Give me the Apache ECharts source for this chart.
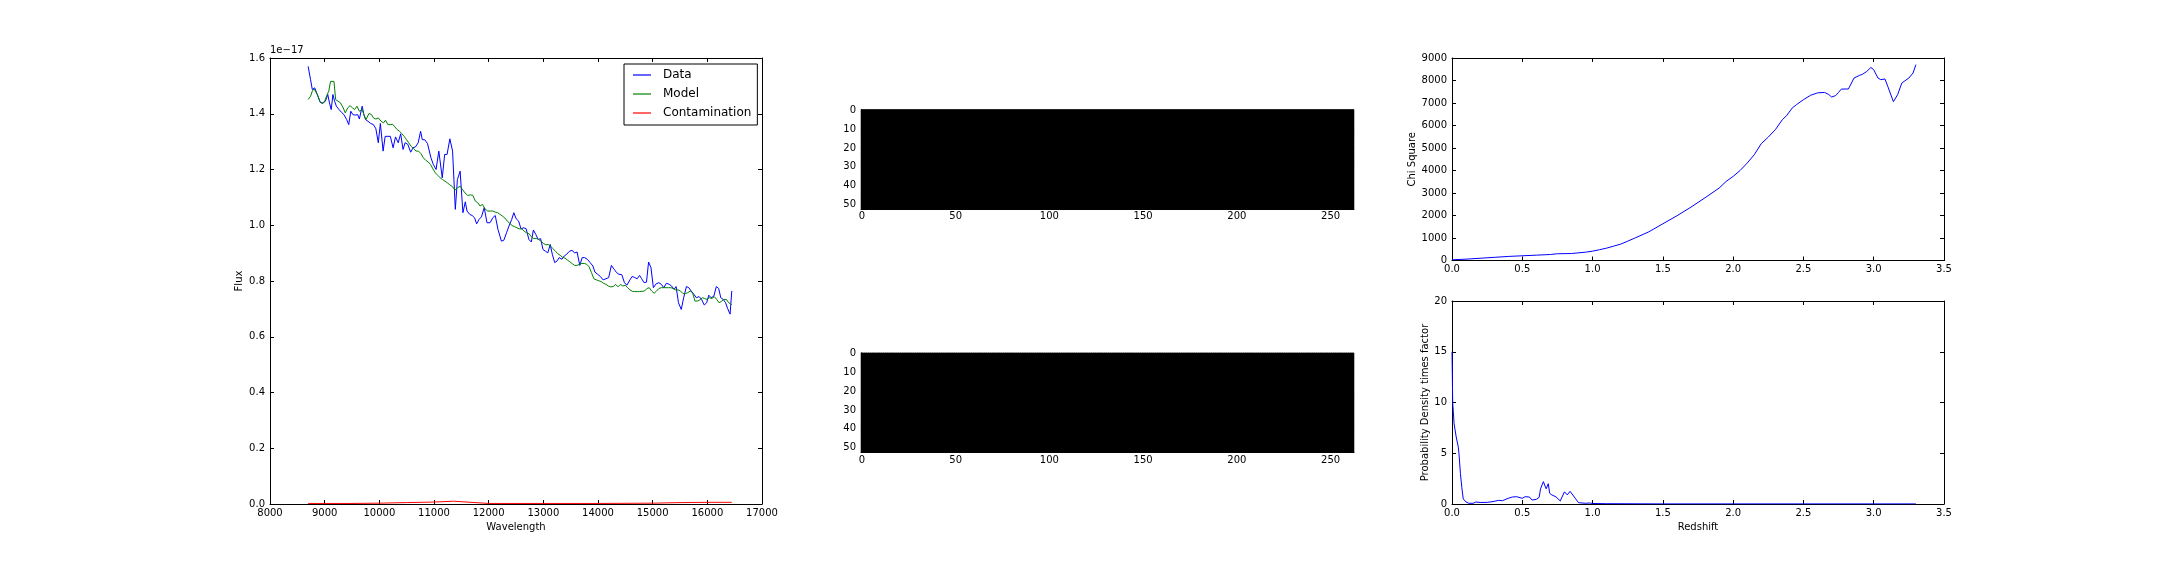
<!DOCTYPE html>
<html>
<head>
<meta charset="utf-8">
<script src="https://cdn.jsdelivr.net/npm/echarts@6/dist/echarts.min.js"></script>
<style>
html,body{margin:0;padding:0;background:#fff;}
#chart{width:2160px;height:576px;}
</style>
</head>
<body>
<div id="chart"></div>
<script>
// ---------- Spectrum panel (flux in units of 1e-17) ----------
const dataWave = [8698,8742,8774,8792,8818,8849,8887,8918,8962,9013,9057,9088,9120,9151,9182,9214,9264,9308,9352,9403,9440,9478,9516,9560,9604,9635,9686,9717,9749,9793,9843,9893,9937,9981,10019,10069,10107,10157,10201,10252,10296,10346,10390,10434,10472,10522,10573,10617,10661,10711,10755,10786,10830,10881,10944,10988,11038,11088,11151,11195,11239,11290,11340,11390,11428,11478,11529,11573,11604,11654,11698,11742,11780,11824,11868,11919,11969,12025,12076,12120,12170,12233,12277,12327,12371,12422,12460,12504,12548,12592,12642,12686,12736,12780,12818,12862,12906,12950,12994,13038,13082,13126,13164,13208,13252,13290,13340,13384,13428,13472,13523,13573,13617,13667,13711,13755,13805,13856,13906,13944,13994,14044,14094,14145,14195,14245,14296,14340,14384,14434,14484,14528,14572,14623,14667,14717,14761,14799,14843,14887,14925,14969,15013,15064,15114,15158,15202,15252,15303,15347,15391,15429,15472,15523,15567,15617,15661,15705,15755,15799,15850,15894,15944,15988,16026,16070,16120,16164,16208,16246,16290,16334,16372,16416,16447];
const dataFlux = [1.570,1.522,1.487,1.481,1.493,1.487,1.457,1.441,1.439,1.445,1.469,1.439,1.415,1.469,1.445,1.427,1.415,1.405,1.397,1.379,1.361,1.409,1.397,1.395,1.397,1.381,1.427,1.397,1.379,1.373,1.365,1.361,1.346,1.296,1.365,1.266,1.319,1.319,1.319,1.278,1.317,1.296,1.328,1.272,1.296,1.290,1.262,1.278,1.281,1.296,1.337,1.307,1.307,1.293,1.242,1.218,1.200,1.266,1.170,1.254,1.254,1.310,1.266,1.057,1.164,1.194,1.045,1.084,1.051,1.039,1.035,1.027,1.005,1.021,1.030,1.063,1.009,1.009,1.027,1.035,0.985,0.943,0.946,0.973,0.997,1.021,1.045,1.023,1.015,0.987,0.991,0.987,0.949,0.940,0.983,0.967,0.949,0.952,0.913,0.907,0.901,0.931,0.896,0.866,0.872,0.884,0.878,0.890,0.896,0.906,0.910,0.901,0.904,0.856,0.884,0.884,0.878,0.866,0.854,0.832,0.824,0.816,0.804,0.808,0.812,0.856,0.842,0.830,0.824,0.823,0.794,0.785,0.800,0.816,0.813,0.808,0.820,0.808,0.794,0.796,0.868,0.848,0.776,0.790,0.794,0.788,0.776,0.792,0.788,0.782,0.770,0.780,0.722,0.698,0.740,0.780,0.776,0.764,0.752,0.740,0.744,0.734,0.714,0.722,0.749,0.740,0.746,0.780,0.773,0.740,0.734,0.722,0.701,0.681,0.764];
const modelWave = [8698,8742,8774,8805,8836,8868,8912,8950,8994,9038,9075,9107,9138,9170,9201,9245,9289,9340,9377,9421,9465,9509,9547,9591,9635,9686,9717,9755,9811,9855,9893,9937,9981,10032,10076,10113,10157,10201,10245,10283,10327,10371,10409,10453,10497,10535,10579,10629,10673,10717,10761,10805,10849,10893,10937,10981,11025,11069,11113,11157,11201,11245,11290,11340,11384,11428,11478,11522,11566,11617,11667,11711,11755,11799,11843,11887,11931,11982,12032,12076,12120,12164,12208,12252,12296,12340,12384,12428,12472,12516,12560,12604,12648,12692,12736,12780,12824,12868,12912,12956,13000,13044,13088,13132,13176,13220,13264,13309,13353,13397,13441,13485,13529,13573,13617,13661,13705,13749,13793,13837,13881,13925,13969,14013,14057,14101,14145,14189,14234,14278,14322,14366,14410,14454,14498,14542,14586,14630,14674,14718,14762,14806,14850,14894,14938,14982,15026,15070,15114,15158,15202,15246,15290,15334,15378,15422,15466,15510,15554,15598,15642,15686,15730,15774,15818,15863,15907,15951,15995,16039,16083,16127,16171,16215,16259,16303,16347,16391,16447];
const modelFlux = [1.451,1.463,1.481,1.489,1.487,1.469,1.445,1.436,1.441,1.465,1.481,1.516,1.522,1.516,1.451,1.445,1.439,1.421,1.403,1.421,1.429,1.421,1.415,1.427,1.409,1.415,1.397,1.379,1.401,1.397,1.385,1.381,1.385,1.373,1.367,1.377,1.361,1.361,1.362,1.353,1.343,1.337,1.329,1.319,1.307,1.296,1.284,1.274,1.266,1.266,1.257,1.242,1.233,1.227,1.218,1.202,1.188,1.179,1.170,1.164,1.158,1.152,1.145,1.138,1.126,1.134,1.140,1.128,1.116,1.107,1.109,1.107,1.087,1.081,1.069,1.075,1.059,1.051,1.051,1.051,1.047,1.045,1.039,1.033,1.026,1.015,1.007,0.999,0.995,0.991,0.987,0.987,0.979,0.973,0.970,0.959,0.952,0.953,0.949,0.943,0.935,0.930,0.931,0.925,0.916,0.907,0.898,0.892,0.885,0.882,0.875,0.869,0.862,0.856,0.856,0.860,0.863,0.863,0.860,0.851,0.830,0.808,0.804,0.801,0.798,0.792,0.788,0.782,0.779,0.780,0.788,0.779,0.788,0.782,0.785,0.776,0.768,0.763,0.762,0.762,0.762,0.763,0.764,0.773,0.776,0.764,0.756,0.764,0.773,0.776,0.776,0.776,0.776,0.776,0.773,0.768,0.768,0.764,0.755,0.755,0.758,0.764,0.758,0.728,0.728,0.732,0.740,0.737,0.734,0.740,0.737,0.744,0.734,0.722,0.727,0.734,0.734,0.722,0.715];
const contamWave = [8698,9500,10000,10500,11000,11360,11380,12000,13000,14000,15000,15500,16000,16447];
const contamFlux = [0.002,0.002,0.003,0.005,0.007,0.010,0.003,0.002,0.002,0.002,0.003,0.005,0.006,0.006];
const fluxTicks = [0.0,0.2,0.4,0.6,0.8,1.0,1.2,1.4,1.6];
const waveTicks = [8000,9000,10000,11000,12000,13000,14000,15000,16000,17000];

// ---------- Image panels ----------
const imageCols = 263;
const imageRows = 53;
const image1Value = 0;
const image2Value = 0;
const imageXTicks = [0,50,100,150,200,250];
const imageYTicks = [0,10,20,30,40,50];

// ---------- Chi square ----------
const chiZ = [0,0.1,0.2,0.3,0.4,0.5,0.6,0.7,0.75,0.85,0.95,1.0,1.05,1.1,1.15,1.2,1.25,1.3,1.4,1.5,1.6,1.7,1.8,1.9,1.95,2.0,2.05,2.1,2.15,2.2,2.25,2.3,2.35,2.38,2.42,2.45,2.5,2.55,2.6,2.65,2.68,2.7,2.73,2.75,2.77,2.82,2.86,2.9,2.92,2.95,2.98,3.0,3.03,3.05,3.08,3.1,3.14,3.17,3.2,3.25,3.28,3.3];
const chiValue = [30,60,100,140,180,210,237,267,300,310,370,415,480,550,640,727,860,994,1275,1631,1987,2372,2788,3217,3514,3737,4004,4330,4700,5190,5486,5813,6257,6435,6776,6924,7147,7340,7450,7470,7380,7266,7330,7473,7620,7622,8111,8230,8276,8400,8580,8480,8111,8037,8067,7740,7058,7370,7888,8111,8333,8704];

// ---------- Probability density ----------
const probZ = [0,0.005,0.015,0.03,0.045,0.05,0.06,0.07,0.08,0.1,0.12,0.15,0.17,0.2,0.25,0.3,0.33,0.36,0.4,0.43,0.46,0.5,0.52,0.55,0.57,0.6,0.62,0.63,0.65,0.67,0.685,0.695,0.71,0.74,0.77,0.8,0.82,0.84,0.88,0.9,0.95,0.98,1.0,1.1,1.5,2.0,2.5,3.0,3.3];
const probValue = [15.0,10.0,7.9,6.6,5.6,4.9,3.0,1.6,0.5,0.2,0.07,0.07,0.2,0.15,0.16,0.26,0.36,0.33,0.56,0.69,0.72,0.56,0.72,0.69,0.39,0.46,0.66,1.5,2.2,1.5,2.0,1.05,0.9,0.7,0.3,1.2,0.9,1.25,0.5,0.13,0.07,0.1,0.05,0.03,0.01,0.01,0.01,0.01,0.01];
const redshiftTicks = [0,0.5,1,1.5,2,2.5,3,3.5];
const chiTicks = [0,1000,2000,3000,4000,5000,6000,7000,8000,9000];
const probTicks = [0,5,10,15,20];

// ---------- Build chart ----------
const FONT = 'DejaVu Sans';
const BLUE = '#0000ff', GREEN = '#008000', RED = '#ff0000';
const pairs = (xs, ys) => xs.map((x, i) => [x, ys[i]]);

function valueAxis(pos, gridIndex, ticks, fmt, showLabel, extra) {
  return Object.assign({
    type: 'value', gridIndex, position: pos,
    min: ticks[0], max: ticks[ticks.length - 1], interval: ticks[1] - ticks[0],
    axisLine: { show: true, onZero: false, lineStyle: { color: '#000', width: 1 } },
    axisTick: { show: true, inside: true, length: 4, lineStyle: { color: '#000', width: 1 } },
    splitLine: { show: false },
    axisLabel: { show: showLabel, color: '#000', fontFamily: FONT, fontSize: 10,
      margin: (pos === 'bottom' || pos === 'top') ? 4 : 5, formatter: fmt },
    nameTextStyle: { color: '#000', fontFamily: FONT, fontSize: 10 }
  }, extra || {});
}

const colCats = Array.from({ length: imageCols }, (_, i) => String(i));
const rowCats = Array.from({ length: imageRows }, (_, i) => String(i));
function imageXAxis(gridIndex) {
  return {
    type: 'category', gridIndex, position: 'bottom', data: colCats, boundaryGap: true,
    axisLine: { show: true, lineStyle: { color: '#000' } },
    axisTick: { show: false },
    splitLine: { show: false },
    axisLabel: { color: '#000', fontFamily: FONT, fontSize: 10, margin: 3,
      interval: (idx) => imageXTicks.includes(idx) }
  };
}
function imageYAxis(gridIndex) {
  return {
    type: 'category', gridIndex, position: 'left', data: rowCats, inverse: true, boundaryGap: true,
    axisLine: { show: true, lineStyle: { color: '#000' } },
    axisTick: { show: false },
    splitLine: { show: false },
    axisLabel: { color: '#000', fontFamily: FONT, fontSize: 10, margin: 5,
      interval: (idx) => imageYTicks.includes(idx) }
  };
}
function imageCells(value) {
  const out = [];
  for (let r = 0; r < imageRows; r++) for (let c = 0; c < imageCols; c++) out.push([c, r, value]);
  return out;
}

const f1 = v => v.toFixed(1);
const f0 = v => String(v);

const option = {
  animation: false,
  backgroundColor: '#ffffff',
  textStyle: { fontFamily: FONT },
  grid: [
    { left: 270, top: 58, width: 492, height: 446 },
    { left: 861, top: 109.6, width: 493, height: 99.3, show: true, backgroundColor: '#000', borderWidth: 0 },
    { left: 861, top: 352.9, width: 493, height: 99.3, show: true, backgroundColor: '#000', borderWidth: 0 },
    { left: 1452, top: 58, width: 492, height: 202.5 },
    { left: 1452, top: 301, width: 492, height: 203 }
  ],
  xAxis: [
    valueAxis('bottom', 0, waveTicks, f0, true, { name: 'Wavelength', nameLocation: 'middle', nameGap: 18 }),
    valueAxis('top', 0, waveTicks, f0, false),
    imageXAxis(1),
    imageXAxis(2),
    valueAxis('bottom', 3, redshiftTicks, f1, true),
    valueAxis('top', 3, redshiftTicks, f1, false),
    valueAxis('bottom', 4, redshiftTicks, f1, true, { name: 'Redshift', nameLocation: 'middle', nameGap: 18 }),
    valueAxis('top', 4, redshiftTicks, f1, false)
  ],
  yAxis: [
    valueAxis('left', 0, fluxTicks, f1, true, { name: 'Flux', nameLocation: 'middle', nameGap: 26 }),
    valueAxis('right', 0, fluxTicks, f1, false, { name: '1e\u221217', nameLocation: 'end', nameGap: 3,
      nameTextStyle: { color: '#000', fontFamily: FONT, fontSize: 10, align: 'left', verticalAlign: 'bottom', padding: [0, 0, 0, -492] } }),
    imageYAxis(1),
    imageYAxis(2),
    valueAxis('left', 3, chiTicks, f0, true, { name: 'Chi Square', nameLocation: 'middle', nameGap: 35 }),
    valueAxis('right', 3, chiTicks, f0, false),
    valueAxis('left', 4, probTicks, f0, true, { name: 'Probability Density times factor', nameLocation: 'middle', nameGap: 22 }),
    valueAxis('right', 4, probTicks, f0, false)
  ],
  visualMap: {
    show: false, type: 'continuous', seriesIndex: [3, 4], min: 0, max: 1,
    inRange: { color: ['#000000', '#ffffff'] }
  },
  legend: {
    data: ['Data', 'Model', 'Contamination'],
    orient: 'vertical',
    left: 624, top: 64,
    padding: [4, 6, 5, 9],
    itemGap: 5,
    itemWidth: 18, itemHeight: 1.2,
    icon: 'rect',
    borderColor: '#000', borderWidth: 1, borderRadius: 0,
    backgroundColor: '#fff',
    textStyle: { fontFamily: FONT, fontSize: 12, color: '#000', lineHeight: 14, padding: [0, 0, 0, 7] }
  },
  series: [
    { name: 'Data', type: 'line', xAxisIndex: 0, yAxisIndex: 0, symbol: 'none', data: pairs(dataWave, dataFlux),
      itemStyle: { color: BLUE }, lineStyle: { color: BLUE, width: 1 } },
    { name: 'Model', type: 'line', xAxisIndex: 0, yAxisIndex: 0, symbol: 'none', data: pairs(modelWave, modelFlux),
      itemStyle: { color: GREEN }, lineStyle: { color: GREEN, width: 1 } },
    { name: 'Contamination', type: 'line', xAxisIndex: 0, yAxisIndex: 0, symbol: 'none', data: pairs(contamWave, contamFlux),
      itemStyle: { color: RED }, lineStyle: { color: RED, width: 1 } },
    { name: 'image1', type: 'heatmap', xAxisIndex: 2, yAxisIndex: 2, data: imageCells(image1Value), progressive: 0,
      itemStyle: { borderWidth: 0 }, emphasis: { disabled: true } },
    { name: 'image2', type: 'heatmap', xAxisIndex: 3, yAxisIndex: 3, data: imageCells(image2Value), progressive: 0,
      itemStyle: { borderWidth: 0 }, emphasis: { disabled: true } },
    { name: 'chi', type: 'line', xAxisIndex: 4, yAxisIndex: 4, symbol: 'none', data: pairs(chiZ, chiValue),
      itemStyle: { color: BLUE }, lineStyle: { color: BLUE, width: 1 } },
    { name: 'prob', type: 'line', xAxisIndex: 6, yAxisIndex: 6, symbol: 'none', data: pairs(probZ, probValue),
      itemStyle: { color: BLUE }, lineStyle: { color: BLUE, width: 1 } }
  ]
};

const chart = echarts.init(document.getElementById('chart'), null, { renderer: 'canvas' });
chart.setOption(option);
</script>
</body>
</html>
